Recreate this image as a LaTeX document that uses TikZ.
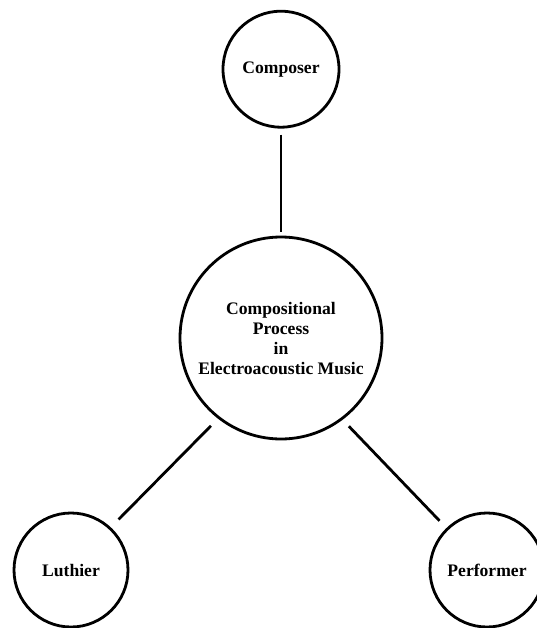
\documentclass[tikz,border=0pt]{standalone}
\usepackage{fontspec}
\setmainfont{Liberation Serif}
\usetikzlibrary{positioning}

\tikzset{
  role/.style={draw,circle,line width=2.8pt,inner sep=0pt,align=center,
    font=\fontsize{17.6}{20}\selectfont\bfseries},
  link/.style={line width=2.8pt}
}

\begin{document}
\begin{tikzpicture}[x=1pt,y=-1pt]
  \useasboundingbox (0,0) rectangle (537,628);

  \node[role,minimum size=202pt] (process) at (281,338)
    {Compositional\\Process\\in\\Electroacoustic Music};
  \node[role,minimum size=116pt,above=107pt of process] (composer) {Composer};
  \node[role,minimum size=114pt] (luthier) at (71,570) {Luthier};
  \node[role,minimum size=114pt] (performer) at (487,570) {Performer};

  \draw[link,shorten <=6pt,shorten >=4pt] (composer) -- (process);
  \draw[link,shorten <=10pt,shorten >=11pt] (process.232) -- (luthier.47);
  \draw[link,shorten <=9pt,shorten >=10pt] (process.307) -- (performer.134);
\end{tikzpicture}
\end{document}
